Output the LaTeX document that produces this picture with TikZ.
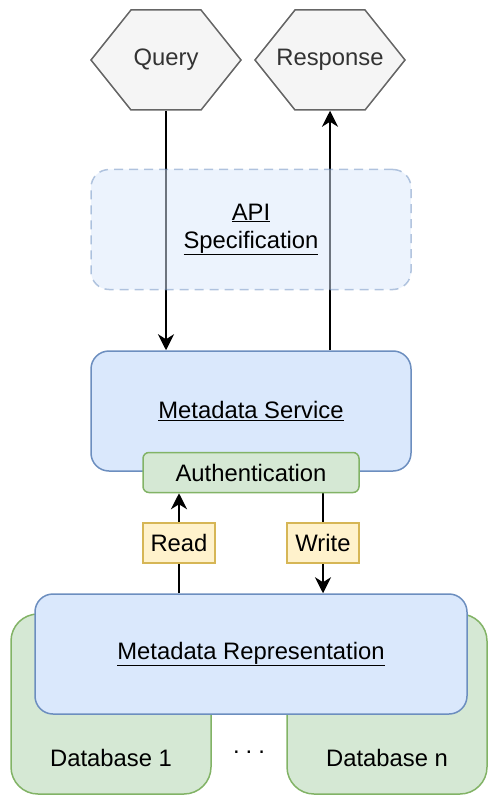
\documentclass[tikz,border=0pt]{standalone}
\usepackage{fontspec}
\setmainfont{Liberation Sans}
\usepackage{xcolor}
\usetikzlibrary{shapes.symbols, arrows.meta, positioning, backgrounds}
\definecolor{metablue}{HTML}{DAE8FC}
\definecolor{metabluedark}{HTML}{6C8EBF}
\definecolor{dbgreen}{HTML}{D5E8D4}
\definecolor{dbgreendark}{HTML}{82B366}
\definecolor{tagyellow}{HTML}{FFF2CC}
\definecolor{tagyellowdark}{HTML}{D6B656}
\definecolor{hexgray}{HTML}{F5F5F5}
\definecolor{hexgraydark}{HTML}{666666}
\definecolor{hextext}{HTML}{333333}
\newcommand{\diagfont}{\fontsize{23.8}{28}\selectfont}
\newcommand{\hexlabel}[1]{\makebox[0pt]{#1}}
\tikzset{
    hexbox/.style={signal, signal to=east and west, signal from=nowhere, signal pointer angle=102.7, draw=hexgraydark, fill=hexgray, line width=1.5pt, minimum width=150pt, minimum height=100pt, inner sep=0pt, text=hextext},
    specbox/.style={rectangle, rounded corners=18pt, draw=metabluedark, fill=metablue, dash pattern=on 9pt off 6pt, line width=1.5pt, fill opacity=0.5, draw opacity=0.5, text opacity=1, minimum width=320pt, minimum height=120pt, align=center},
    metabox/.style={rectangle, rounded corners=18pt, draw=metabluedark, fill=metablue, line width=1.5pt, minimum height=120pt},
    authbox/.style={rectangle, rounded corners=6pt, draw=dbgreendark, fill=dbgreen, line width=1.5pt, minimum width=216pt, minimum height=40pt, inner sep=0pt},
    tagbox/.style={rectangle, draw=tagyellowdark, fill=tagyellow, line width=1.5pt, minimum width=72pt, minimum height=40pt, inner sep=0pt},
    dbbox/.style={rectangle, rounded corners=27pt, draw=dbgreendark, fill=dbgreen, line width=1.5pt, minimum width=200pt, inner ysep=0pt, text height=152pt, text depth=28pt},
    arrow/.style={line width=2pt, -{Stealth[length=16pt, width=16pt, inset=5pt]}}
}
\begin{document}
\begin{tikzpicture}[x=1pt, y=-1pt, font=\diagfont]
    \useasboundingbox (0,0) rectangle (498,802);
    \node (service) [metabox, minimum width=320pt] at (251,411) {\underline{Metadata Service}};
    \node (auth) [authbox, below=-20pt of service] {Authentication};
    \node (api) [specbox, above=60pt of service] {\underline{API}\\\underline{Specification}};
    \node (query) [hexbox, above=58pt of api, xshift=-85pt] {\hexlabel{Query}};
    \node (response) [hexbox, above=58pt of api, xshift=79pt] {\hexlabel{Response}};
    \node (repr) [metabox, minimum width=432pt, below=100pt of auth] {\underline{Metadata Representation}};
    \node (read) [tagbox, below right=30pt and 0pt of auth.south west, yshift=1pt] {Read};
    \node (write) [tagbox, below left=30pt and 0pt of auth.south east, yshift=1pt] {Write};

    \begin{scope}[on background layer]
        \node (db1) [dbbox, below right=20pt and -24pt of repr.north west] {Database 1};
        \node (dbn) [dbbox, below left=20pt and -20pt of repr.north east] {Database n};
        \draw [arrow] (query.south) -- (query.south |- service.north);
        \draw [arrow] (service.north -| response.south) -- (response.south);
        \draw [arrow] (repr.north -| read) -- (read) -- (auth.south -| read);
        \draw [arrow] (auth.south -| write) -- (write) -- (repr.north -| write);
    \end{scope}
    \node (dots) [inner sep=0pt] at (249,752) {.\hspace{6pt}.\hspace{6pt}.};
\end{tikzpicture}
\end{document}
